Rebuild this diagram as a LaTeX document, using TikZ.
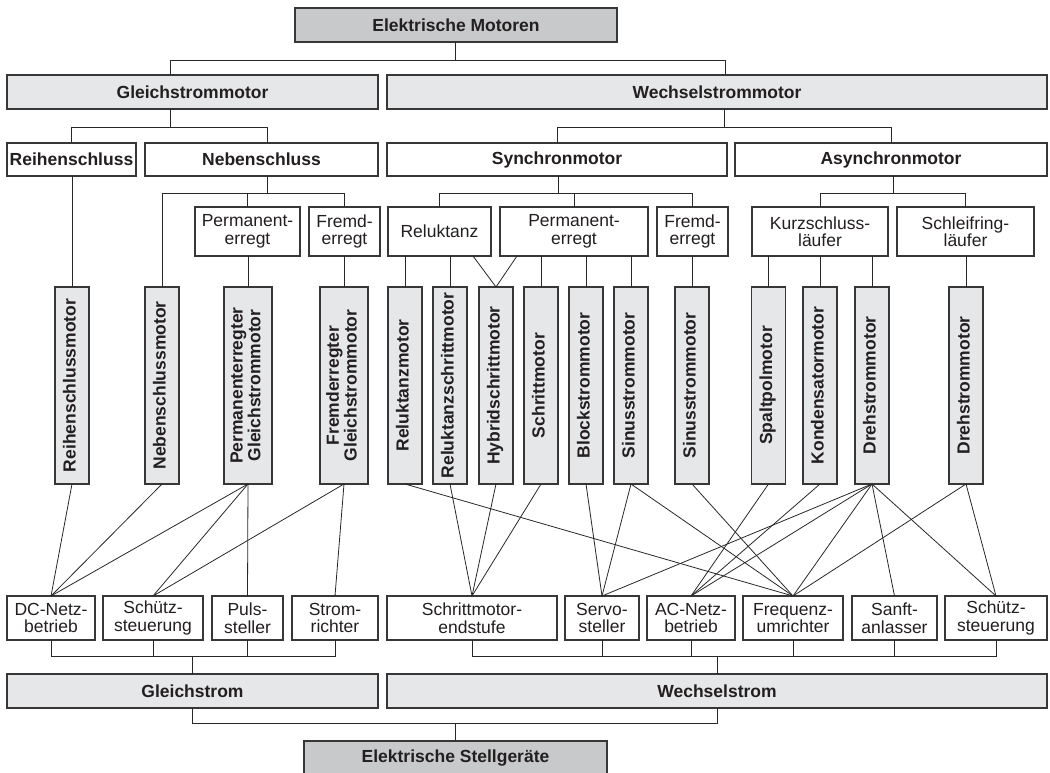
\documentclass[tikz,border=0pt]{standalone}
\usepackage{fontspec}
\setmainfont{Liberation Sans}
\usetikzlibrary{calc}
\definecolor{fdark}{RGB}{200,201,203}
\definecolor{flight}{RGB}{230,231,232}
\definecolor{bline}{RGB}{55,55,55}
\definecolor{tcol}{RGB}{35,31,32}
\definecolor{cline}{RGB}{40,40,40}
\newcommand{\rt}[1]{\rotatebox{90}{\begin{tabular}{@{}c@{}}#1\end{tabular}}}
\begin{document}
\begin{tikzpicture}[x=1pt,y=-1pt,
  box/.style={draw=bline, line width=1.1pt, inner sep=0pt, outer sep=0pt, text=tcol, align=center,
    font=\fontsize{17.5}{17.5}\selectfont},
  bbox/.style={box, font=\bfseries\fontsize{17.5}{17.5}\selectfont},
  darkbox/.style={bbox, fill=fdark, minimum height=34pt},
  lightbox/.style={bbox, fill=flight, minimum height=34pt},
  catbox/.style={bbox, fill=white, minimum height=33pt},
  subbox/.style={box, fill=white, minimum height=49pt},
  motbox/.style={bbox, fill=flight, minimum height=197pt},
  ctlbox/.style={box, fill=white, minimum height=44pt},
  con/.style={draw=cline, line width=0.8pt}]
\useasboundingbox (0,0) rectangle (1050,773);

% row 0
\node[darkbox, minimum width=322pt] (em) at (456,25) {Elektrische Motoren};
% row 1
\node[lightbox, minimum width=371pt] (gm) at (192.5,92) {Gleichstrommotor};
\node[lightbox, minimum width=660pt] (wm) at (717,92) {Wechselstrommotor};
% row 2
\node[catbox, minimum width=129pt] (rs) at (71.5,159.5) {Reihenschluss};
\node[catbox, minimum width=233pt] (ns) at (261.5,159.5) {Nebenschluss};
\node[catbox, minimum width=340pt] (sy) at (557,159.5) {Synchronmotor};
\node[catbox, minimum width=312pt] (as) at (891,159.5) {Asynchronmotor};
% row 3
\node[subbox, minimum width=105pt] (dpe) at (247.5,231.5) {Permanent-\\erregt};
\node[subbox, minimum width=71pt] (dfe) at (344.5,231.5) {Fremd-\\erregt};
\node[subbox, minimum width=103pt] (rel) at (439.5,231.5) {Reluktanz};
\node[subbox, minimum width=148pt] (ape) at (574,231.5) {Permanent-\\erregt};
\node[subbox, minimum width=71pt] (afe) at (692.5,231.5) {Fremd-\\erregt};
\node[subbox, minimum width=136pt] (kl) at (820,231.5) {Kurzschluss-\\läufer};
\node[subbox, minimum width=137pt] (sl) at (965.5,231.5) {Schleifring-\\läufer};
% row 4 motors
\node[motbox, minimum width=34pt] (rsm) at (72,385.5) {\rt{Reihenschlussmotor}};
\node[motbox, minimum width=34pt] (nsm) at (162,385.5) {\rt{Nebenschlussmotor}};
\node[motbox, minimum width=48pt] (pgm) at (248,385.5) {\rt{Permanenterregter\\Gleichstrommotor}};
\node[motbox, minimum width=48pt] (fgm) at (344,385.5) {\rt{Fremderregter\\Gleichstrommotor}};
\node[motbox, minimum width=34pt] (m1) at (405,385.5) {\rt{Reluktanzmotor}};
\node[motbox, minimum width=34pt] (m2) at (450,385.5) {\rt{Reluktanzschrittmotor}};
\node[motbox, minimum width=34pt] (m3) at (496,385.5) {\rt{Hybridschrittmotor}};
\node[motbox, minimum width=34pt] (m4) at (541,385.5) {\rt{Schrittmotor}};
\node[motbox, minimum width=34pt] (m5) at (586,385.5) {\rt{Blockstrommotor}};
\node[motbox, minimum width=34pt] (m6) at (631,385.5) {\rt{Sinusstrommotor}};
\node[motbox, minimum width=34pt] (m7) at (692,385.5) {\rt{Sinusstrommotor}};
\node[motbox, minimum width=34pt] (m8) at (768.5,385.5) {\rt{Spaltpolmotor}};
\node[motbox, minimum width=34pt] (m9) at (820,385.5) {\rt{Kondensatormotor}};
\node[motbox, minimum width=34pt] (m10) at (872,385.5) {\rt{Drehstrommotor}};
\node[motbox, minimum width=34pt] (m11) at (966,385.5) {\rt{Drehstrommotor}};
% row 5 controllers
\node[ctlbox, minimum width=88pt] (b1) at (51,618) {DC-Netz-\\betrieb};
\node[ctlbox, minimum width=100pt] (b2) at (153,618) {Schütz-\\steuerung};
\node[ctlbox, minimum width=71pt] (b3) at (247.5,618) {Puls-\\steller};
\node[ctlbox, minimum width=86pt] (b4) at (335,618) {Strom-\\richter};
\node[ctlbox, minimum width=170pt] (b5) at (472,618) {Schrittmotor-\\endstufe};
\node[ctlbox, minimum width=74pt] (b6) at (602,618) {Servo-\\steller};
\node[ctlbox, minimum width=88pt] (b7) at (691,618) {AC-Netz-\\betrieb};
\node[ctlbox, minimum width=100pt] (b8) at (793,618) {Frequenz-\\umrichter};
\node[ctlbox, minimum width=85pt] (b9) at (894.5,618) {Sanft-\\anlasser};
\node[ctlbox, minimum width=102pt] (b10) at (996,618) {Schütz-\\steuerung};
% row 6
\node[lightbox, minimum width=371pt] (gs) at (192.5,691) {Gleichstrom};
\node[lightbox, minimum width=660pt] (ws) at (717,691) {Wechselstrom};
% row 7
\node[darkbox, minimum width=303pt] (st) at (455.5,758) {Elektrische Stellgeräte};

% tree connectors top
\coordinate (j0) at (455,60);
\coordinate (j0l) at (170,60);
\coordinate (j0r) at (725,60);
\draw[con] (em.south -| j0) -- (j0);
\draw[con] (gm.north -| j0l) -- (j0l) -- (j0r) -- (wm.north -| j0r);

\coordinate (j1) at (170,127);
\coordinate (j1r) at (267,127);
\draw[con] (gm.south -| j1) -- (j1);
\draw[con] (rs.north) -- (rs.north |- j1) -- (j1r) -- (ns.north -| j1r);

\coordinate (j2) at (724,127);
\draw[con] (wm.south -| j2) -- (j2);
\draw[con] (sy.north) -- (sy.north |- j2) -- (as.north |- j2) -- (as.north);

\coordinate (j3) at (267,193);
\draw[con] (ns.south -| j3) -- (j3);
\draw[con] (nsm.north) -- (nsm.north |- j3) -- (dfe.north |- j3) -- (dfe.north);
\draw[con] (dpe.north) -- (dpe.north |- j3);

\coordinate (j4) at (558,193);
\draw[con] (sy.south -| j4) -- (j4);
\draw[con] (rel.north) -- (rel.north |- j4) -- (afe.north |- j4) -- (afe.north);
\draw[con] (ape.north) -- (ape.north |- j4);

\coordinate (j5) at (893,193);
\draw[con] (as.south -| j5) -- (j5);
\draw[con] (kl.north) -- (kl.north |- j5) -- (sl.north |- j5) -- (sl.north);

% category to motor
\draw[con] (rsm.north) -- (rsm.north |- rs.south);
\draw[con] (pgm.north) -- (pgm.north |- dpe.south);
\draw[con] (fgm.north) -- (fgm.north |- dfe.south);
\draw[con] (m1.north) -- (m1.north |- rel.south);
\draw[con] (m2.north) -- (m2.north |- rel.south);
\draw[con] (m3.north) -- ($(rel.south east)+(-18,0)$);
\draw[con] (m3.north) -- ($(ape.south west)+(17,0)$);
\draw[con] (m4.north) -- (m4.north |- ape.south);
\draw[con] (m5.north) -- (m5.north |- ape.south);
\draw[con] (m6.north) -- (m6.north |- ape.south);
\draw[con] (m7.north) -- (m7.north |- afe.south);
\draw[con] (m8.north) -- (m8.north |- kl.south);
\draw[con] (m9.north) -- (m9.north |- kl.south);
\draw[con] (m10.north) -- (m10.north |- kl.south);
\draw[con] (m11.north) -- (m11.north |- sl.south);

% motor to controllers
\draw[con] (rsm.south) -- (b1.north);
\draw[con] (nsm.south) -- (b1.north);
\draw[con] (pgm.south) -- (b1.north);
\draw[con] (pgm.south) -- (b2.north);
\draw[con] (pgm.south) -- (b3.north);
\draw[con] (fgm.south) -- (b2.north);
\draw[con] (fgm.south) -- (b4.north);
\draw[con] (m1.south) -- (b8.north);
\draw[con] (m2.south) -- (b5.north);
\draw[con] (m3.south) -- (b5.north);
\draw[con] (m4.south) -- (b5.north);
\draw[con] (m5.south) -- (b6.north);
\draw[con] (m6.south) -- (b6.north);
\draw[con] (m6.south) -- (b8.north);
\draw[con] (m7.south) -- (b8.north);
\draw[con] (m8.south) -- (b7.north);
\draw[con] (m9.south) -- (b7.north);
\draw[con] (m10.south) -- (b6.north);
\draw[con] (m10.south) -- (b7.north);
\draw[con] (m10.south) -- (b8.north);
\draw[con] (m10.south) -- (b9.north);
\draw[con] (m10.south) -- (b10.north);
\draw[con] (m11.south) -- (b8.north);
\draw[con] (m11.south) -- (b10.north);

% bottom tree
\coordinate (j6) at (192,656);
\draw[con] (b1.south) -- (b1.south |- j6) -- (b4.south |- j6) -- (b4.south);
\draw[con] (b2.south) -- (b2.south |- j6);
\draw[con] (b3.south) -- (b3.south |- j6);
\draw[con] (gs.north) -- (gs.north |- j6);

\coordinate (j7) at (718,656);
\draw[con] (b5.south) -- (b5.south |- j7) -- (b10.south |- j7) -- (b10.south);
\draw[con] (b6.south) -- (b6.south |- j7);
\draw[con] (b7.south) -- (b7.south |- j7);
\draw[con] (b8.south) -- (b8.south |- j7);
\draw[con] (b9.south) -- (b9.south |- j7);
\draw[con] (ws.north) -- (ws.north |- j7);

\coordinate (j8) at (455,723);
\draw[con] (gs.south) -- (gs.south |- j8) -- (ws.south |- j8) -- (ws.south);
\draw[con] (st.north) -- (st.north |- j8);
\end{tikzpicture}
\end{document}
